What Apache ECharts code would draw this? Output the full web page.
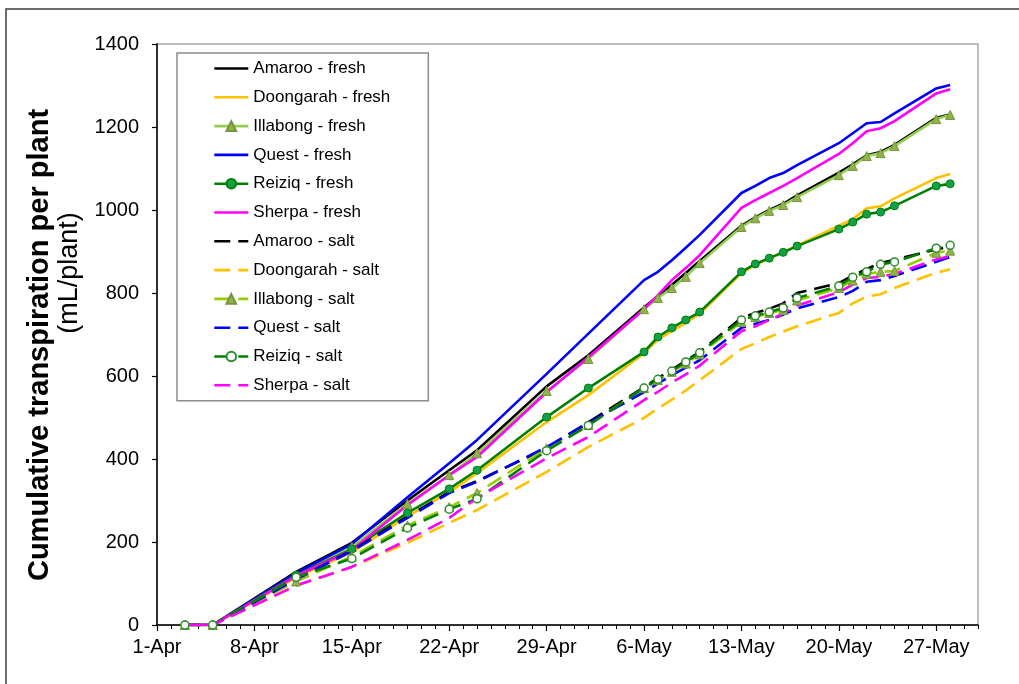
<!DOCTYPE html>
<html>
<head>
<meta charset="utf-8">
<script src="https://cdn.jsdelivr.net/npm/echarts@6/dist/echarts.min.js"></script>
<style>html,body{margin:0;padding:0;background:#fff;}#c{width:1019px;height:684px;}</style>
</head>
<body>
<div id="c"></div>
<script>
// Day offsets from 1-Apr of each measurement
const days = [2,4,10,14,18,21,23,28,31,35,36,37,38,39,42,43,44,45,46,49,50,51,52,53,56,57];
const xTickLabels = ['1-Apr','8-Apr','15-Apr','22-Apr','29-Apr','6-May','13-May','20-May','27-May'];
const yTicks = [0,200,400,600,800,1000,1200,1400];

const amarooFresh    = [0,0,128,198,300,373,421,575,650,765,793,820,848,877,962,982,1000,1015,1035,1090,1110,1132,1140,1157,1222,1230];
const doongarahFresh = [0,0,115,175,262,320,366,489,554,655,688,708,728,750,848,868,884,898,914,962,978,1004,1009,1028,1077,1087];
const illabongFresh  = [0,0,120,188,292,361,414,564,641,761,788,812,839,872,959,980,998,1012,1031,1084,1106,1130,1137,1154,1219,1229];
const questFresh     = [0,0,125,195,308,390,446,605,702,831,851,879,909,940,1041,1058,1077,1089,1108,1161,1185,1209,1212,1233,1293,1301];
const reiziqFresh    = [0,0,120,183,270,328,373,501,571,658,694,716,735,754,851,870,884,898,913,954,971,990,995,1010,1058,1063];
const sherpaFresh    = [0,0,118,180,289,361,405,561,645,761,795,831,860,891,1005,1024,1041,1058,1077,1135,1161,1190,1197,1214,1281,1291];

const amarooSalt     = [0,0,110,180,262,320,347,426,489,573,595,615,637,658,740,752,762,775,800,824,842,858,872,880,905,912];
const doongarahSalt  = [0,0,95,140,198,246,277,369,429,499,522,543,565,590,665,679,694,707,720,752,775,791,797,812,849,857];
const illabongSalt   = [0,0,105,165,240,284,318,426,482,571,590,610,630,652,730,742,752,759,782,812,830,846,851,853,897,902];
const questSalt      = [0,0,110,178,258,318,345,429,487,561,582,602,620,638,716,726,735,748,763,790,805,827,831,841,875,887];
const reiziqSalt     = [0,0,115,160,234,279,304,420,481,571,592,612,634,656,735,745,754,764,788,817,838,851,869,875,908,915];
const sherpaSalt     = [0,0,95,140,205,258,306,402,453,542,562,584,604,625,708,720,735,750,770,802,820,836,839,846,881,889];

const FONT = "'Liberation Sans', Arial, sans-serif";
const DASH = [16, 8];
const pts = vals => days.map((d, i) => [d, vals[i]]);

function mk(name, vals, color, dashed, marker) {
  const s = {
    name: name, type: 'line', xAxisIndex: 0, yAxisIndex: 0,
    data: pts(vals),
    lineStyle: { color: color, width: 2.6, type: dashed ? DASH : 'solid' },
    itemStyle: { color: color },
    symbol: 'none', animation: false, silent: true
  };
  if (marker === 'tri') {
    s.symbol = 'triangle'; s.symbolSize = 9; s.showSymbol = true;
    s.itemStyle = { color: '#8FB54A', borderColor: '#77933C', borderWidth: 1 };
  } else if (marker === 'dot') {
    s.symbol = 'circle'; s.symbolSize = 8; s.showSymbol = true;
    s.itemStyle = { color: '#12A04A', borderColor: '#008000', borderWidth: 1 };
  } else if (marker === 'ring') {
    s.symbol = 'circle'; s.symbolSize = 8; s.showSymbol = true;
    s.itemStyle = { color: '#ffffff', borderColor: '#2E8B2E', borderWidth: 1.5 };
  }
  return s;
}

const series = [
  mk('Amaroo - fresh', amarooFresh, '#000000', false),
  mk('Doongarah - fresh', doongarahFresh, '#FFC000', false),
  mk('Illabong - fresh', illabongFresh, '#92D050', false, 'tri'),
  mk('Quest - fresh', questFresh, '#0000FF', false),
  mk('Reiziq - fresh', reiziqFresh, '#008000', false, 'dot'),
  mk('Sherpa - fresh', sherpaFresh, '#FF00FF', false),
  mk('Amaroo - salt', amarooSalt, '#000000', true),
  mk('Doongarah - salt', doongarahSalt, '#FFC000', true),
  mk('Illabong - salt', illabongSalt, '#99CC00', true, 'tri'),
  mk('Quest - salt', questSalt, '#0000FF', true),
  mk('Reiziq - salt', reiziqSalt, '#008000', true, 'ring'),
  mk('Sherpa - salt', sherpaSalt, '#FF00FF', true)
];

const legendData = series.map(s => {
  const item = { name: s.name, lineStyle: { width: 2.6 } };
  if (s.symbol === 'none') item.itemStyle = { opacity: 0 };
  return item;
});

const majorVals = xTickLabels.map((_, i) => i * 7);

const chart = echarts.init(document.getElementById('c'), null, { renderer: 'canvas' });
chart.setOption({
  animation: false,
  backgroundColor: '#ffffff',
  grid: { left: 157, right: 41, top: 44, bottom: 59, show: true, borderColor: '#a6a6a6', borderWidth: 1.5, backgroundColor: 'transparent' },
  xAxis: [
    {
      type: 'value', min: 0, max: 59, interval: 1, position: 'bottom',
      axisLine: { show: true, onZero: false, lineStyle: { color: '#000', width: 1.5 } },
      axisTick: { show: true, length: 4, lineStyle: { color: '#000', width: 1 } },
      axisLabel: { show: false }, splitLine: { show: false }
    },
    {
      type: 'value', min: 0, max: 59, interval: 7, position: 'bottom',
      axisLine: { show: false, onZero: false },
      axisTick: { show: true, length: 6, customValues: majorVals, lineStyle: { color: '#000', width: 1.2 } },
      axisLabel: {
        show: true, customValues: majorVals, margin: 12, color: '#000', fontSize: 20, fontFamily: FONT,
        formatter: v => xTickLabels[Math.round(v / 7)] || ''
      },
      splitLine: { show: false }
    }
  ],
  yAxis: {
    type: 'value', min: 0, max: 1400, interval: 200,
    axisLine: { show: true, lineStyle: { color: '#000', width: 1.5 } },
    axisTick: { show: true, length: 5, lineStyle: { color: '#000', width: 1.2 } },
    axisLabel: { margin: 18, color: '#000', fontSize: 20, fontFamily: FONT,
      formatter: v => (yTicks.indexOf(v) >= 0 ? String(v) : '') },
    splitLine: { show: false }
  },
  legend: {
    orient: 'vertical', left: 177, top: 53,
    itemWidth: 34, itemHeight: 12, itemGap: 11.8,
    padding: [7, 38, 7, 36],
    backgroundColor: '#ffffff', borderColor: '#8c8c8c', borderWidth: 1.5,
    textStyle: { color: '#000', fontSize: 17, fontFamily: FONT },
    selectedMode: false,
    data: legendData
  },
  graphic: [
    { type: 'rect', z: -10, silent: true, shape: { x: 6, y: 9, width: 1100, height: 1000 },
      style: { fill: 'none', stroke: '#3f3f3f', lineWidth: 1.5 } },
    { type: 'text', x: 40, y: 345, rotation: Math.PI / 2, silent: true,
      style: { text: 'Cumulative transpiration per plant', font: "bold 29px " + FONT, fill: '#000', textAlign: 'center', textVerticalAlign: 'middle' } },
    { type: 'text', x: 70, y: 273, rotation: Math.PI / 2, silent: true,
      style: { text: '(mL/plant)', font: "27px " + FONT, fill: '#000', textAlign: 'center', textVerticalAlign: 'middle' } }
  ],
  series: series
});
</script>
</body>
</html>
